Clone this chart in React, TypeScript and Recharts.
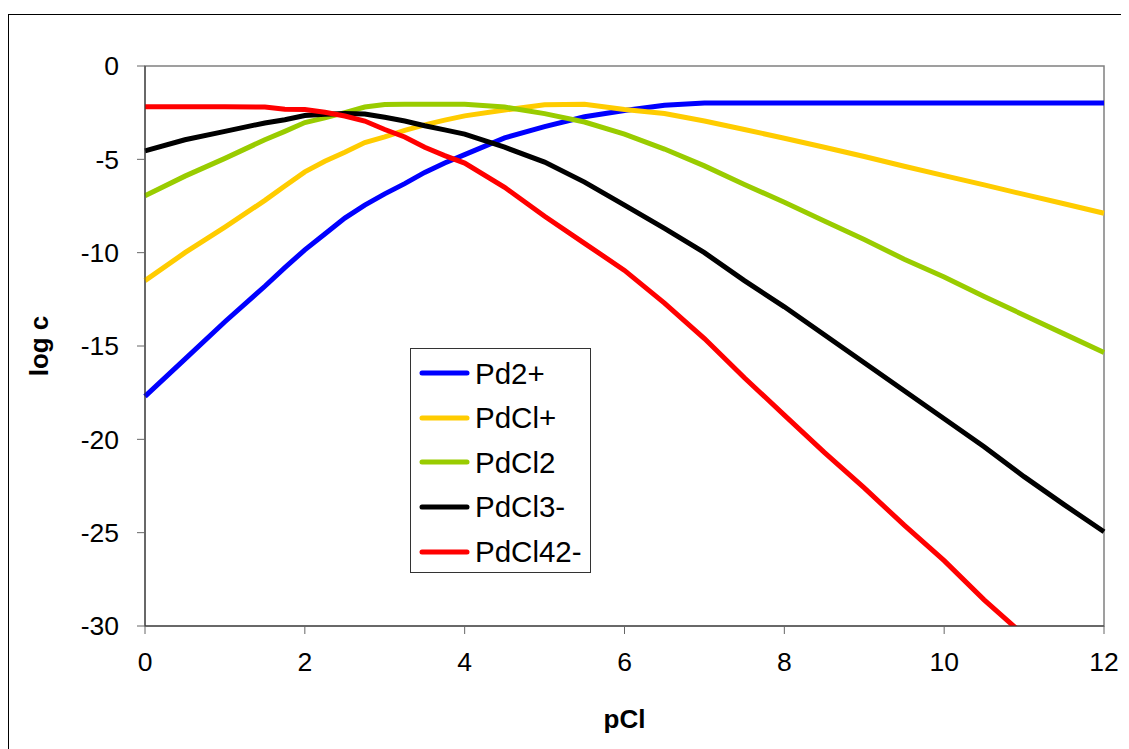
import { LineChart, Line, XAxis, YAxis, Legend, ReferenceArea } from 'recharts';

// pCl grid (x values)
const pClValues = [
  0, 0.5, 1, 1.5, 1.75, 2, 2.25, 2.5, 2.75, 3, 3.25, 3.5, 3.75, 4, 4.5, 5, 5.5,
  6, 6.5, 7, 7.5, 8, 8.5, 9, 9.5, 10, 10.5, 11, 11.5, 12,
];

// log c for each species
const pd2 = [
  -17.7, -15.7, -13.7, -11.8, -10.8, -9.85, -9.0, -8.15, -7.45, -6.85, -6.3, -5.7, -5.2, -4.75, -3.85, -3.25, -2.72,
  -2.38, -2.1, -1.98, -1.98, -1.98, -1.98, -1.98, -1.98, -1.98, -1.98, -1.98, -1.98, -1.98,
];
const pdCl = [
  -11.5, -10.0, -8.63, -7.2, -6.43, -5.67, -5.1, -4.62, -4.1, -3.8, -3.45, -3.15, -2.9, -2.67, -2.36, -2.08, -2.05,
  -2.33, -2.55, -2.95, -3.4, -3.87, -4.35, -4.85, -5.37, -5.87, -6.37, -6.88, -7.38, -7.89,
];
const pdCl2 = [
  -6.95, -5.9, -4.95, -3.95, -3.5, -3.03, -2.78, -2.5, -2.2, -2.06, -2.05, -2.05, -2.05, -2.05, -2.2, -2.55, -3.0,
  -3.65, -4.45, -5.35, -6.35, -7.3, -8.3, -9.3, -10.35, -11.3, -12.35, -13.35, -14.35, -15.35,
];
const pdCl3 = [
  -4.55, -3.95, -3.5, -3.05, -2.88, -2.65, -2.58, -2.55, -2.57, -2.75, -2.95, -3.2, -3.42, -3.65, -4.35, -5.15, -6.22,
  -7.45, -8.7, -10.0, -11.5, -12.9, -14.4, -15.9, -17.4, -18.9, -20.4, -22.0, -23.5, -24.95,
];
const pdCl4 = [
  -2.18, -2.18, -2.18, -2.2, -2.32, -2.33, -2.48, -2.68, -2.95, -3.4, -3.8, -4.35, -4.8, -5.2, -6.5, -8.05, -9.5,
  -10.95, -12.7, -14.6, -16.7, -18.7, -20.7, -22.6, -24.6, -26.5, -28.6, -30.5, -32.5, -34.5,
];

const xTicks = [0, 2, 4, 6, 8, 10, 12];
const yTicks = [-30, -25, -20, -15, -10, -5, 0];

const series = [
  { key: 'pd2', name: 'Pd2+', color: '#0000FF', values: pd2 },
  { key: 'pdCl', name: 'PdCl+', color: '#FFCC00', values: pdCl },
  { key: 'pdCl2', name: 'PdCl2', color: '#99CC00', values: pdCl2 },
  { key: 'pdCl3', name: 'PdCl3-', color: '#000000', values: pdCl3 },
  { key: 'pdCl4', name: 'PdCl42-', color: '#FF0000', values: pdCl4 },
];

const chartData = pClValues.map((x, i) => {
  const row: Record<string, number> = { pCl: x };
  series.forEach(s => {
    row[s.key] = s.values[i];
  });
  return row;
});

const FONT = '"Liberation Sans", Arial, sans-serif';

function YTitle(props: any) {
  const { x, y, height } = props.viewBox;
  const cx = x + 8;
  const cy = y + height / 2;
  return (
    <text x={cx} y={cy} transform={`rotate(-90, ${cx}, ${cy})`} textAnchor="middle"
      fontFamily={FONT} fontSize={26} fontWeight="bold" fill="#000">
      log c
    </text>
  );
}

function XTitle(props: any) {
  const { x, y, width } = props.viewBox;
  return (
    <text x={x + width / 2} y={y + 102} textAnchor="middle"
      fontFamily={FONT} fontSize={26} fontWeight="bold" fill="#000">
      pCl
    </text>
  );
}

function LegendBox(props: any) {
  const { payload } = props;
  return (
    <div style={{
      width: 181, height: 225, boxSizing: 'border-box', border: '1px solid #333',
      background: '#fff', paddingTop: 2, fontFamily: FONT,
    }}>
      {payload.map((entry: any) => (
        <div key={entry.value} style={{ height: 44.6, display: 'flex', alignItems: 'center' }}>
          <svg width={60} height={8} style={{ display: 'block' }}>
            <line x1={11} y1={4} x2={56} y2={4} stroke={entry.color} strokeWidth={5} strokeLinecap="round" />
          </svg>
          <span style={{ fontSize: 29.5, color: '#000', lineHeight: 1, marginLeft: 4 }}>{entry.value}</span>
        </div>
      ))}
    </div>
  );
}

export default function App() {
  return (
    <div style={{ position: 'relative', width: 1121, height: 741, background: '#fff' }}>
      <div style={{
        position: 'absolute', left: 0, top: 6, width: 1121, height: 735,
        borderTop: '1px solid #000', borderLeft: '1px solid #000', boxSizing: 'border-box',
      }} />
      <div style={{ position: 'absolute', left: 0, top: 0 }}>
        <LineChart
          width={1121}
          height={741}
          data={chartData}
          margin={{ top: 58, right: 25, left: 32, bottom: 63 }}
        >
          <ReferenceArea x1={0} x2={12} y1={-30} y2={0} stroke="#808080" strokeWidth={1.5} fill="none" fillOpacity={0} />
          <XAxis
            dataKey="pCl"
            type="number"
            domain={[0, 12]}
            ticks={xTicks}
            height={60}
            stroke="#333"
            tickSize={8}
            tickMargin={18}
            tick={{ fill: '#000', fontSize: 26.5, fontFamily: FONT }}
            tickLine={{ stroke: '#666' }}
            label={<XTitle />}
          />
          <YAxis
            type="number"
            domain={[-30, 0]}
            ticks={yTicks}
            allowDataOverflow
            width={105}
            stroke="#333"
            tickSize={8}
            tickMargin={18}
            tick={{ fill: '#000', fontSize: 26.5, fontFamily: FONT }}
            tickLine={{ stroke: '#666' }}
            label={<YTitle />}
          />
          <Legend
            layout="vertical"
            align="center"
            verticalAlign="middle"
            wrapperStyle={{ left: 402, top: 340, width: 181 }}
            content={<LegendBox />}
          />
          {series.map(s => (
            <Line
              key={s.key}
              type="linear"
              dataKey={s.key}
              name={s.name}
              stroke={s.color}
              strokeWidth={5}
              dot={false}
              activeDot={false}
              isAnimationActive={false}
            />
          ))}
        </LineChart>
      </div>
    </div>
  );
}
